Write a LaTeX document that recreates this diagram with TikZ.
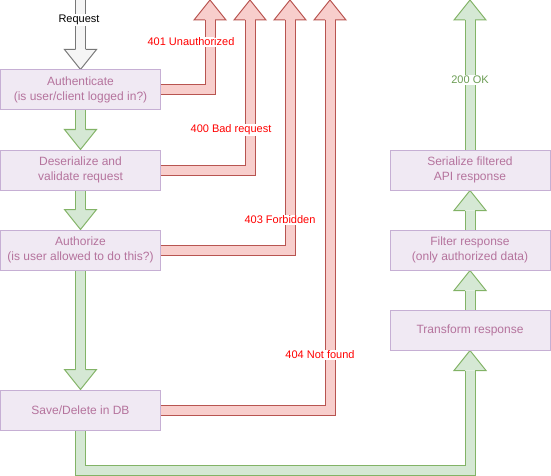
\documentclass[tikz,border=0pt]{standalone}
\usepackage{fontspec}
\setmainfont{Liberation Sans}
\usetikzlibrary{calc,backgrounds}
\definecolor{boxfill}{HTML}{F0E9F3}
\definecolor{boxline}{HTML}{C6AFD4}
\definecolor{boxtext}{HTML}{B5739D}
\definecolor{redfill}{HTML}{F8CECC}
\definecolor{redline}{HTML}{B85450}
\definecolor{greenfill}{HTML}{D5E8D4}
\definecolor{greenline}{HTML}{82B366}
\definecolor{grayfill}{HTML}{F5F5F5}
\definecolor{grayline}{HTML}{777777}
\definecolor{oktext}{HTML}{6D9E55}
\definecolor{errtext}{HTML}{FF0000}
\tikzset{
  stepbox/.style={draw=boxline, fill=boxfill, text=boxtext, line width=1pt,
    minimum width=160pt, minimum height=40pt, inner sep=0pt, align=center,
    font=\fontsize{12}{14.4}\selectfont},
  lbl/.style={fill=white, inner sep=1pt, font=\fontsize{11}{13}\selectfont},
  gshaft/.style={draw=greenline, double=greenfill, line width=1pt, double distance=9pt, line join=miter},
  rshaft/.style={draw=redline, double=redfill, line width=1pt, double distance=9pt, line join=miter},
  yshaft/.style={draw=grayline, double=grayfill, line width=1pt, double distance=9pt, line join=miter},
  pics/fathead/.style 2 args={code={
    \fill[#1] (0,0) -- (16,20) -- (-16,20) -- cycle;
    \draw[#2, line width=1pt, line join=miter] (5,20) -- (16,20) -- (0,0) -- (-16,20) -- (-5,20);
  }},
}
\begin{document}
\begin{tikzpicture}[x=1pt,y=-1pt]
\useasboundingbox (0,0) rectangle (551,476);
% boxes
\node[stepbox] (auth) at (80.5,90) {Authenticate\\(is user/client logged in?)};
\node[stepbox] (deser) at (80.5,170) {Deserialize and\\validate request};
\node[stepbox] (authz) at (80.5,250) {Authorize\\(is user allowed to do this?)};
\node[stepbox] (save) at (80.5,410) {Save/Delete in DB};
\node[stepbox] (serial) at (470,170) {Serialize filtered\\API response};
\node[stepbox] (filter) at (470,250) {Filter response\\(only authorized data)};
\node[stepbox] (trans) at (470,330) {Transform response};
% free ends
\coordinate (reqtop) at (80.5,0);
\coordinate (t401) at (210,0);
\coordinate (t400) at (250,0);
\coordinate (t403) at (290,0);
\coordinate (t404) at (330,0);
\coordinate (tok) at (470,0);
\coordinate (low) at (0,470);
\begin{pgfonlayer}{background}
% request
\draw[yshaft] (reqtop) -- ($(auth.north)+(0,-20)$);
\pic[rotate=180] at (auth.north) {fathead={grayfill}{grayline}};
% error exits
\draw[rshaft] (auth.east) -- (auth.east -| t401) -- ($(t401)+(0,20)$);
\pic at (t401) {fathead={redfill}{redline}};
\draw[rshaft] (deser.east) -- (deser.east -| t400) -- ($(t400)+(0,20)$);
\pic at (t400) {fathead={redfill}{redline}};
\draw[rshaft] (authz.east) -- (authz.east -| t403) -- ($(t403)+(0,20)$);
\pic at (t403) {fathead={redfill}{redline}};
\draw[rshaft] (save.east) -- (save.east -| t404) -- ($(t404)+(0,20)$);
\pic at (t404) {fathead={redfill}{redline}};
% happy path
\draw[gshaft] (auth.south) -- ($(deser.north)+(0,-20)$);
\pic[rotate=180] at (deser.north) {fathead={greenfill}{greenline}};
\draw[gshaft] (deser.south) -- ($(authz.north)+(0,-20)$);
\pic[rotate=180] at (authz.north) {fathead={greenfill}{greenline}};
\draw[gshaft] (authz.south) -- ($(save.north)+(0,-20)$);
\pic[rotate=180] at (save.north) {fathead={greenfill}{greenline}};
\draw[gshaft] (save.south) -- (save.south |- low) -- (trans.south |- low) -- ($(trans.south)+(0,20)$);
\pic at (trans.south) {fathead={greenfill}{greenline}};
\draw[gshaft] (trans.north) -- ($(filter.south)+(0,20)$);
\pic at (filter.south) {fathead={greenfill}{greenline}};
\draw[gshaft] (filter.north) -- ($(serial.south)+(0,20)$);
\pic at (serial.south) {fathead={greenfill}{greenline}};
\draw[gshaft] (serial.north) -- ($(tok)+(0,20)$);
\pic at (tok) {fathead={greenfill}{greenline}};
\end{pgfonlayer}
% labels
\node[lbl] (lreq) at (79,20) {Request};
\node[lbl, text=errtext] (l401) at (191,42) {401 Unauthorized};
\node[lbl, text=errtext] (l400) at (231,130) {400 Bad request};
\node[lbl, text=errtext] (l403) at (280,220) {403 Forbidden};
\node[lbl, text=errtext] (l404) at (320,355) {404 Not found};
\node[lbl, text=oktext] (lok) at (470,80) {200 OK};
\end{tikzpicture}
\end{document}
